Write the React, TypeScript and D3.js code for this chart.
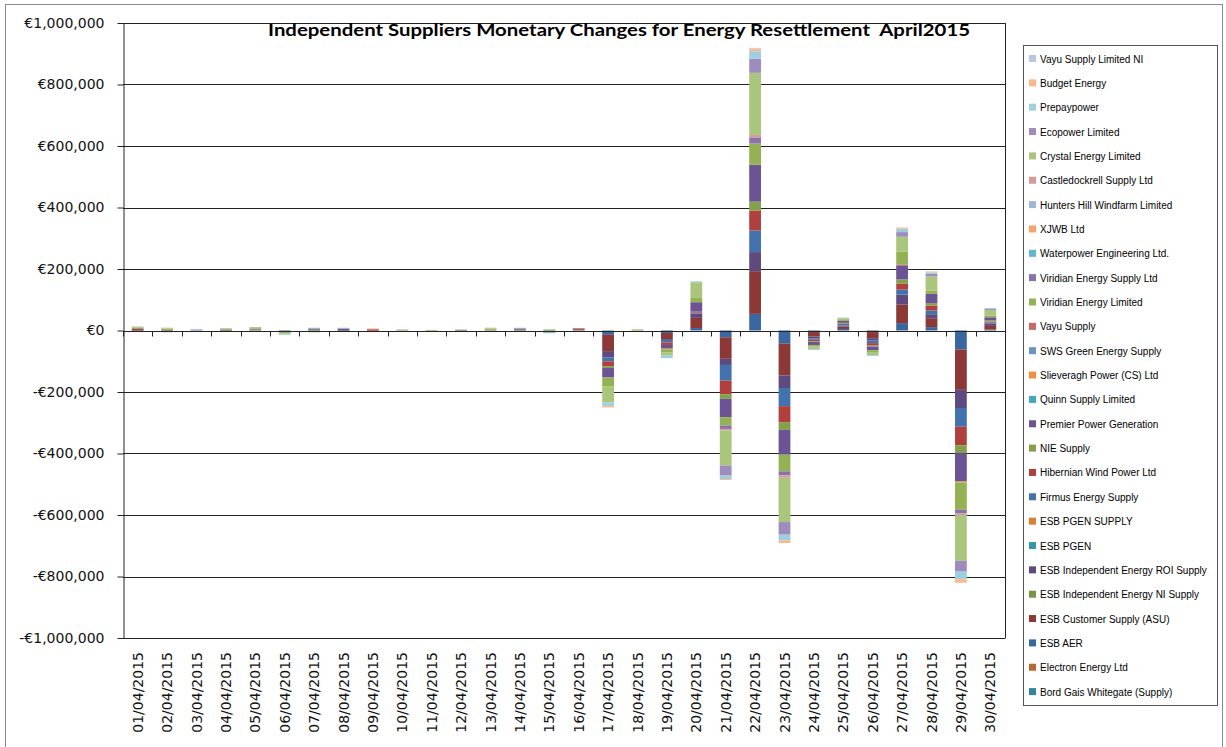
import React, { useEffect, useRef } from "react";
import * as d3 from "d3";

// x categories
const dates = [
  "01/04/2015", "02/04/2015", "03/04/2015", "04/04/2015", "05/04/2015",
  "06/04/2015", "07/04/2015", "08/04/2015", "09/04/2015", "10/04/2015",
  "11/04/2015", "12/04/2015", "13/04/2015", "14/04/2015", "15/04/2015",
  "16/04/2015", "17/04/2015", "18/04/2015", "19/04/2015", "20/04/2015",
  "21/04/2015", "22/04/2015", "23/04/2015", "24/04/2015", "25/04/2015",
  "26/04/2015", "27/04/2015", "28/04/2015", "29/04/2015", "30/04/2015",
];

const yTicks = [-1000000, -800000, -600000, -400000, -200000, 0, 200000, 400000, 600000, 800000, 1000000];

// series, in stacking order (first = nearest the axis)
const suppliers = [
  "Bord Gais Whitegate (Supply)",
  "Electron Energy Ltd",
  "ESB AER",
  "ESB Customer Supply (ASU)",
  "ESB Independent Energy NI Supply",
  "ESB Independent Energy ROI Supply",
  "ESB PGEN",
  "ESB PGEN SUPPLY",
  "Firmus Energy Supply",
  "Hibernian Wind Power Ltd",
  "NIE Supply",
  "Premier Power Generation",
  "Quinn Supply Limited",
  "Slieveragh Power (CS) Ltd",
  "SWS Green Energy Supply",
  "Vayu Supply",
  "Viridian Energy Limited",
  "Viridian Energy Supply Ltd",
  "Waterpower Engineering Ltd.",
  "XJWB Ltd",
  "Hunters Hill Windfarm Limited",
  "Castledockrell Supply Ltd",
  "Crystal Energy Limited",
  "Ecopower Limited",
  "Prepaypower",
  "Budget Energy",
  "Vayu Supply Limited NI",
];

const colors = [
  "#31859C", "#B9692E", "#3B67A0", "#8C3836", "#779543", "#5E4A7E",
  "#3795AE", "#DD7F33", "#4373AE", "#B0403D", "#83A04B", "#6C5494",
  "#42A7C2", "#F48E3C", "#6D91CB", "#C96966", "#94B154", "#8A72AC",
  "#5FB6CF", "#F9A466", "#A2B6DD", "#D8999A", "#AAC67D", "#9D8CBC",
  "#9ECFE0", "#FAB98A", "#B8C6E2",
];

// values in € thousands, one entry per day
const bordGais =       [0,0,0,0,0,0,0,0,0,0,0,0,0,0,0,0,0,0,0,0,0,0,0,0,0,0,0,0,0,0];
const electron =       [0,0,0,0,0,0,0,0,0,0,0,0,0,0,0,0,0,0,0,0,0,0,0,0,0,0,0,0,0,0];
const esbAer =         [2,1,1,0,1,-2,2,2,0,0,0,0,0,1,-2,0,-14,0,-8,8,-22,54,-43,-5,5,-5,24,11,-62,3];
const esbCustomer =    [3,-3,0,-4,1,-2,1,-2,3,0,0,-2,1,2,-2,4,-53,0,-20,33,-70,139,-103,-15,8,-20,60,29,-131,12];
const esbNi =          [0,0,0,0,0,0,0,0,0,0,0,0,0,0,0,0,0,0,0,0,0,0,0,0,0,0,0,0,0,0];
const esbRoi =         [0,0,1,1,2,-2,3,3,0,0,0,0,1,3,-2,1,-20,0,-3,14,-20,62,-41,-5,3,-8,33,13,-59,8];
const esbPgen =        [0,0,0,0,0,0,0,0,0,0,0,0,0,0,0,0,0,0,0,0,0,0,0,0,0,0,0,0,0,0];
const esbPgenSupply =  [0,0,0,0,0,0,0,0,0,0,0,0,0,0,0,0,0,0,0,0,0,0,0,0,0,0,0,0,0,0];
const firmus =         [0,0,1,0,0,0,1,1,0,0,0,0,0,0,-1,0,-13,0,-8,3,-51,70,-59,-5,5,-8,16,12,-61,3];
const hibernian =      [-2,-2,0,0,0,0,0,0,-2,0,0,0,0,0,0,2,-16,0,-8,4,-44,65,-52,-5,2,-8,20,16,-60,3];
const nie =            [2,3,0,2,2,-2,-2,-1,0,2,2,2,2,-1,0,0,-6,2,0,0,-15,29,-25,-2,2,-3,13,8,-26,4];
const premier =        [1,0,0,1,0,0,0,1,0,0,0,0,0,1,0,0,-31,0,-11,30,-60,120,-81,-10,6,-12,46,30,-92,10];
const quinn =          [0,0,0,0,0,0,0,0,0,0,0,0,0,0,0,0,0,0,0,0,0,0,0,0,0,0,0,0,0,0];
const slieveragh =     [0,0,0,0,0,0,0,0,0,0,0,0,0,0,0,0,0,0,0,0,0,0,0,0,0,0,0,0,-3,0];
const sws =            [0,0,0,0,0,0,0,0,0,0,0,0,0,0,0,0,0,0,0,0,0,0,0,0,0,0,0,0,0,0];
const vayu =           [0,0,0,0,0,0,0,0,2,0,0,0,0,0,0,0,0,0,-3,0,0,0,0,0,0,0,3,0,0,0];
const viridianLtd =    [2,2,0,2,2,-2,-2,-2,0,0,0,0,2,0,1,0,-28,0,-11,16,-27,69,-54,-5,3,-6,41,11,-89,6];
const viridianSupply = [0,0,0,0,0,0,0,0,0,0,0,0,0,0,0,0,0,0,0,0,-11,20,-13,0,0,0,0,0,-12,0];
const waterpower =     [0,0,0,0,0,0,0,0,0,0,0,0,0,0,0,0,0,0,0,0,0,0,0,0,0,0,0,0,0,0];
const xjwb =           [0,0,0,0,0,0,0,0,0,0,0,0,0,0,0,0,0,0,0,0,0,0,0,0,0,0,0,0,0,0];
const huntersHill =    [0,0,0,0,0,0,0,0,0,0,0,0,0,0,0,0,0,0,0,0,0,0,0,0,0,0,0,0,0,0];
const castledockrell = [0,0,0,0,0,0,0,0,0,0,0,0,0,0,0,0,0,0,0,0,-5,8,-8,0,0,0,0,0,-5,0];
const crystal =        [3,3,0,2,3,-3,-2,0,-2,-3,-3,0,3,-2,3,-2,-53,2,-10,49,-114,202,-144,-8,6,-10,49,46,-149,18];
const ecopower =       [0,0,0,0,0,0,0,0,0,0,0,0,0,0,0,0,0,0,0,0,-33,46,-41,0,0,0,15,8,-35,3];
const prepaypower =    [-1,0,1,0,0,-2,2,2,0,2,0,2,0,2,-2,0,-11,1,-8,3,-11,24,-18,-3,2,-3,11,5,-25,3];
const budget =         [-2,-1,0,-1,0,0,0,0,2,0,0,-2,0,0,0,0,-5,0,0,0,-3,9,-9,0,0,0,4,3,-11,0];
const vayuNi =         [0,0,-1,0,0,0,0,0,0,0,0,0,0,0,0,0,2,0,0,-3,0,2,0,0,0,0,0,0,0,0];

const values = [
  bordGais, electron, esbAer, esbCustomer, esbNi, esbRoi, esbPgen, esbPgenSupply,
  firmus, hibernian, nie, premier, quinn, slieveragh, sws, vayu, viridianLtd,
  viridianSupply, waterpower, xjwb, huntersHill, castledockrell, crystal, ecopower,
  prepaypower, budget, vayuNi,
];

const title = "Independent Suppliers Monetary Changes for Energy Resettlement  April2015";

const euro = (v: number) => (v < 0 ? "-€" : "€") + d3.format(",")(Math.abs(v));

export default function App() {
  const ref = useRef<SVGSVGElement>(null);

  useEffect(() => {
    const svg = d3.select(ref.current);
    svg.selectAll("*").remove();

    const margin = { top: 23, right: 1005, bottom: 638, left: 123 };

    const xScale = d3
      .scaleBand()
      .domain(dates)
      .range([margin.left, margin.right])
      .paddingInner(0.6)
      .paddingOuter(0.3);
    const yScale = d3.scaleLinear().domain([-1000000, 1000000]).range([margin.bottom, margin.top]);

    // chart border
    svg.append("rect")
      .attr("x", 5.5).attr("y", 4.5)
      .attr("width", 1217).attr("height", 745)
      .attr("fill", "#fff").attr("stroke", "#8a8a8a");

    // gridlines
    svg.append("g")
      .selectAll("line")
      .data(yTicks)
      .join("line")
      .attr("x1", margin.left).attr("x2", margin.right)
      .attr("y1", (d) => Math.round(yScale(d)) + 0.5)
      .attr("y2", (d) => Math.round(yScale(d)) + 0.5)
      .attr("stroke", "#222");

    svg.append("line")
      .attr("x1", margin.right + 0.5).attr("x2", margin.right + 0.5)
      .attr("y1", margin.top).attr("y2", margin.bottom + 0.5)
      .attr("stroke", "#222");

    // stacked bars
    const rows = dates.map((date, i) => {
      const row: any = { date };
      suppliers.forEach((s, j) => (row[s] = values[j][i] * 1000));
      return row;
    });
    const series = d3.stack().keys(suppliers).offset(d3.stackOffsetDiverging)(rows);

    svg.append("g")
      .selectAll("g")
      .data(series)
      .join("g")
      .attr("fill", (d, i) => colors[i])
      .selectAll("rect")
      .data((d) => d)
      .join("rect")
      .attr("x", (d: any) => xScale(d.data.date))
      .attr("y", (d) => yScale(d[1]))
      .attr("height", (d) => yScale(d[0]) - yScale(d[1]))
      .attr("width", xScale.bandwidth());

    // y axis
    const yAxis = svg.append("g")
      .attr("transform", `translate(${margin.left + 0.5},0)`)
      .call(d3.axisLeft(yScale).tickValues(yTicks).tickFormat((d) => euro(+d)).tickSize(6).tickSizeOuter(0).tickPadding(13));
    yAxis.selectAll("path,line").attr("stroke", "#222");
    yAxis.selectAll("text")
      .attr("font-family", "DejaVu Sans")
      .attr("font-size", 14)
      .attr("fill", "#111");

    // x axis on the zero line
    const y0 = Math.round(yScale(0)) + 0.5;
    svg.append("line")
      .attr("x1", margin.left).attr("x2", margin.right)
      .attr("y1", y0).attr("y2", y0)
      .attr("stroke", "#222");
    const edges = dates.map((d) => (xScale(d) as number) - xScale.step() * 0.3).concat([margin.right]);
    svg.append("g")
      .selectAll("line")
      .data(edges)
      .join("line")
      .attr("x1", (d) => Math.round(d) + 0.5).attr("x2", (d) => Math.round(d) + 0.5)
      .attr("y1", y0).attr("y2", y0 + 5)
      .attr("stroke", "#222");

    // x labels, low position
    svg.append("g")
      .selectAll("text")
      .data(dates)
      .join("text")
      .attr("transform", (d) => `translate(${(xScale(d) as number) + xScale.bandwidth() / 2 + 5},652) rotate(-90)`)
      .attr("text-anchor", "end")
      .attr("font-family", "DejaVu Sans")
      .attr("font-size", 14)
      .attr("fill", "#111")
      .text((d) => d);

    // title
    svg.append("text")
      .attr("x", 619).attr("y", 36)
      .attr("text-anchor", "middle")
      .attr("font-family", "Lato")
      .attr("font-weight", "bold")
      .attr("font-size", 17)
      .attr("textLength", 702)
      .attr("lengthAdjust", "spacingAndGlyphs")
      .style("white-space", "pre")
      .attr("fill", "#000")
      .text(title);

    // legend (reverse order so it matches the stack)
    const legend = svg.append("g");
    legend.append("rect")
      .attr("x", 1023.5).attr("y", 45.5)
      .attr("width", 194).attr("height", 660)
      .attr("fill", "#fff").attr("stroke", "#555");
    const items = suppliers.map((s, i) => ({ s, c: colors[i] })).reverse();
    const item = legend.selectAll("g.item")
      .data(items)
      .join("g")
      .attr("class", "item")
      .attr("transform", (d, i) => `translate(1029,${59 + i * 24.35})`);
    item.append("rect")
      .attr("x", 0).attr("y", -4)
      .attr("width", 7).attr("height", 7)
      .attr("fill", (d) => d.c);
    item.append("text")
      .attr("x", 11).attr("y", 3.5)
      .attr("font-family", "Liberation Sans")
      .attr("font-size", 10)
      .attr("fill", "#000")
      .text((d) => d.s);
  }, []);

  return (
    <div>
      <svg ref={ref} width={1226} height={747} style={{ position: "absolute", left: 0, top: 0 }} />
    </div>
  );
}
